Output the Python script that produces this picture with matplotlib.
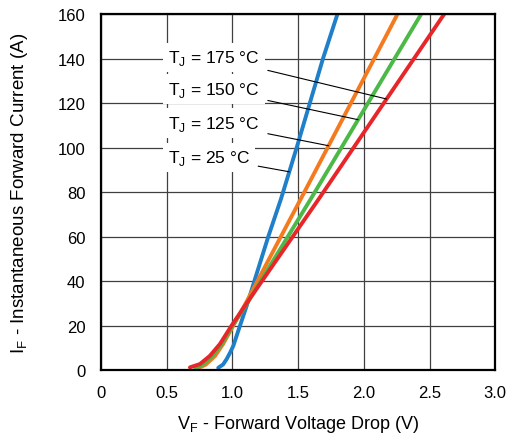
import numpy as np
import matplotlib
matplotlib.use("Agg")
import matplotlib.pyplot as plt

plt.rcParams['font.family'] = ['Liberation Sans', 'DejaVu Sans']
plt.rcParams['mathtext.fontset'] = 'custom'
plt.rcParams['mathtext.rm'] = 'Liberation Sans'

# forward current (A) vs forward voltage (V) for each junction temperature
v_25 = [0.893, 0.93, 0.957, 0.985, 1.008, 1.046, 1.116, 1.168, 1.274, 1.371, 1.49, 1.69, 1.80]
i_25 = [1.0, 2.5, 4.9, 8, 10.9, 17.7, 30, 40, 60, 77, 100, 140, 160]

v_125 = [0.741, 0.80, 0.87, 0.93, 1.008, 1.102, 1.521, 2.257]
i_125 = [0.8, 2.5, 6.4, 11.7, 20, 30, 76.9, 160]

v_150 = [0.72, 0.78, 0.85, 0.92, 1.003, 1.113, 1.597, 2.437]
i_150 = [0.8, 2.6, 6.4, 11.7, 20, 30, 76.9, 160]

v_175 = [0.678, 0.754, 0.83, 0.906, 0.995, 1.109, 1.658, 2.612]
i_175 = [1.2, 2.7, 6.4, 11.7, 20, 30, 76.9, 160]

x_ticks = [0, 0.5, 1.0, 1.5, 2.0, 2.5, 3.0]
x_tick_labels = ['0', '0.5', '1.0', '1.5', '2.0', '2.5', '3.0']
y_ticks = [0, 20, 40, 60, 80, 100, 120, 140, 160]

# label text, label height (A), current where the leader meets the curve
labels = ['T$_\\mathregular{J}$ = 175 °C', 'T$_\\mathregular{J}$ = 150 °C',
          'T$_\\mathregular{J}$ = 125 °C', 'T$_\\mathregular{J}$ = 25 °C']
label_y = [140.5, 126.3, 111.0, 95.6]
leader_i = [121.8, 112.5, 100.8, 89.1]

fig = plt.figure(figsize=(5.09, 4.35), dpi=100)
ax = fig.add_axes([0.198, 0.147, 0.775, 0.8185])

curves = [(v_25, i_25, '#1f7fc8'), (v_125, i_125, '#f47a20'),
          (v_150, i_150, '#4cb848'), (v_175, i_175, '#e8262a')]
for v, i, c in curves:
  ax.plot(v, i, color=c, lw=2.8, solid_capstyle='round', zorder=2)

targets = [(v_175, i_175), (v_150, i_150), (v_125, i_125), (v_25, i_25)]
for text, ty, li, (v, i) in zip(labels, label_y, leader_i, targets):
  vx = np.interp(li, i, v)
  ax.annotate(text, xy=(vx, li), xytext=(0.512, ty), fontsize=12.5,
              ha='left', va='center',
              bbox=dict(boxstyle='square,pad=0.3', fc='white', ec='none'),
              arrowprops=dict(arrowstyle='-', color='black', lw=0.8,
                              shrinkA=2, shrinkB=0),
              zorder=4)

ax.set_xlim(0, 3.0)
ax.set_ylim(0, 160)
ax.set_xticks(x_ticks)
ax.set_xticklabels(x_tick_labels)
ax.set_yticks(y_ticks)
ax.tick_params(length=0, pad=11, labelsize=12)
ax.grid(True, color='#404040', lw=0.9)
ax.set_axisbelow(True)
for s in ax.spines.values():
  s.set_linewidth(1.6)
  s.set_color('black')

ax.set_xlabel('V$_\\mathregular{F}$ - Forward Voltage Drop (V)', fontsize=13, labelpad=9)
ax.set_ylabel('I$_\\mathregular{F}$ - Instantaneous Forward Current (A)', fontsize=13.5, labelpad=20)

fig.savefig('out.png', dpi=100)
